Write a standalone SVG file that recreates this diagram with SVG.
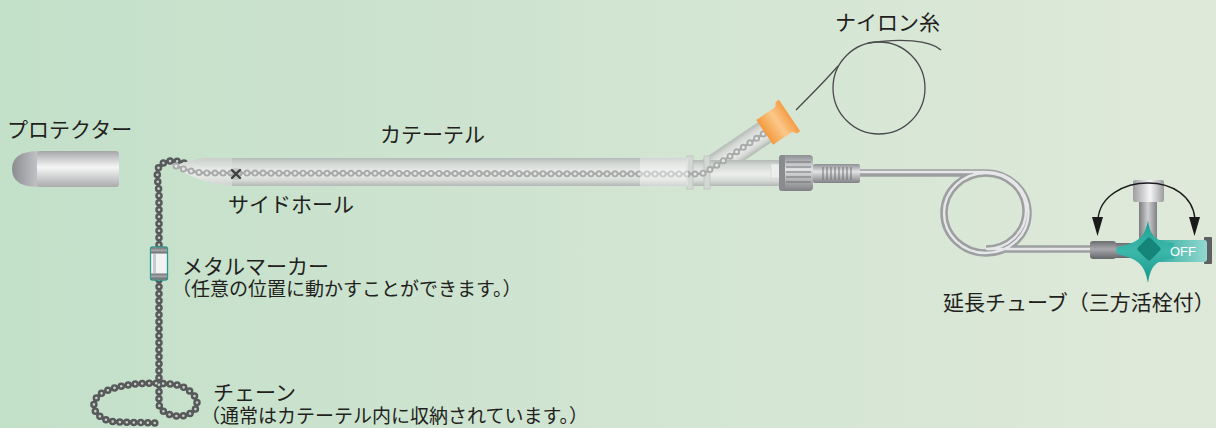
<svg xmlns="http://www.w3.org/2000/svg" width="1216" height="428" viewBox="0 0 1216 428">
  <defs>
    <linearGradient id="bg" x1="0" y1="0" x2="1" y2="0">
      <stop offset="0" stop-color="#c3e0c9"/>
      <stop offset="1" stop-color="#dfe9da"/>
    </linearGradient>
    <linearGradient id="metalV" x1="0" y1="0" x2="0" y2="1">
      <stop offset="0" stop-color="#a4a6a8"/>
      <stop offset="0.45" stop-color="#f6f6f6"/>
      <stop offset="1" stop-color="#a9abad"/>
    </linearGradient>
    <linearGradient id="capH" x1="0" y1="0" x2="1" y2="0">
      <stop offset="0" stop-color="#8c8d90"/>
      <stop offset="1" stop-color="#c4c5c8"/>
    </linearGradient>
    <linearGradient id="tube" x1="0" y1="0" x2="0" y2="1">
      <stop offset="0" stop-color="#b4bab5"/>
      <stop offset="0.2" stop-color="#d3d7d3"/>
      <stop offset="0.55" stop-color="#eceeec"/>
      <stop offset="0.8" stop-color="#d6d9d6"/>
      <stop offset="1" stop-color="#b3b8b4"/>
    </linearGradient>
    <linearGradient id="tip" x1="0" y1="0" x2="0" y2="1">
      <stop offset="0" stop-color="#c9cec9"/>
      <stop offset="0.5" stop-color="#eef0ee"/>
      <stop offset="1" stop-color="#cfd3cf"/>
    </linearGradient>
    <linearGradient id="nut" x1="0" y1="0" x2="0" y2="1">
      <stop offset="0" stop-color="#8e8f92"/>
      <stop offset="0.4" stop-color="#e2e3e5"/>
      <stop offset="1" stop-color="#7f8083"/>
    </linearGradient>
    <linearGradient id="orange" x1="0" y1="0" x2="1" y2="0">
      <stop offset="0" stop-color="#f39a3e"/>
      <stop offset="0.55" stop-color="#fbc88a"/>
      <stop offset="1" stop-color="#f49d45"/>
    </linearGradient>
    <linearGradient id="grayH" x1="0" y1="0" x2="1" y2="0">
      <stop offset="0" stop-color="#7a7b7e"/>
      <stop offset="0.5" stop-color="#cfd0d2"/>
      <stop offset="1" stop-color="#808184"/>
    </linearGradient>
    <linearGradient id="capTop" x1="0" y1="0" x2="1" y2="0">
      <stop offset="0" stop-color="#9c9da0"/>
      <stop offset="0.55" stop-color="#f5f5f5"/>
      <stop offset="1" stop-color="#9a9b9e"/>
    </linearGradient>
    <linearGradient id="darkV" x1="0" y1="0" x2="0" y2="1">
      <stop offset="0" stop-color="#6c6d70"/>
      <stop offset="0.45" stop-color="#a7a8ab"/>
      <stop offset="1" stop-color="#646568"/>
    </linearGradient>
    <linearGradient id="teal" x1="0" y1="0" x2="0" y2="1">
      <stop offset="0" stop-color="#1f9f92"/>
      <stop offset="0.5" stop-color="#3bb8aa"/>
      <stop offset="1" stop-color="#17958a"/>
    </linearGradient>
    <linearGradient id="tealLever" x1="0" y1="0" x2="1" y2="0">
      <stop offset="0" stop-color="#34ada1"/>
      <stop offset="1" stop-color="#92d8cf"/>
    </linearGradient>
    <style>
      .lbl { font-family: "Noto Sans CJK JP", "Noto Sans", sans-serif; fill: #231f20; }
      .big { font-size: 21px; }
      .sub { font-size: 19px; }
      .chainLink { fill: none; stroke: #58595b; stroke-width: 3; stroke-linejoin: round; }
      .chainBead { fill: none; stroke: #58595b; stroke-width: 7.5; stroke-dasharray: 0 7; stroke-linecap: round; stroke-linejoin: round; }
      .chainHole { fill: none; stroke: #c4d2c6; stroke-width: 2.6; stroke-dasharray: 0 7; stroke-linecap: round; stroke-linejoin: round; }
      .innerLink { fill: none; stroke: #a6a8a8; stroke-width: 2.5; }
      .innerBead { fill: none; stroke: #a9abab; stroke-width: 7; stroke-dasharray: 0 8; stroke-linecap: round; }
      .innerHole { fill: none; stroke: #e5e7e5; stroke-width: 3.2; stroke-dasharray: 0 8; stroke-linecap: round; }
      .thread { fill: none; stroke: #4a4a4c; stroke-width: 1.3; }
      .ext { fill: none; stroke: #9c9ea0; stroke-width: 7.5; stroke-linecap: butt; }
      .extHi { fill: none; stroke: #e6e7e8; stroke-width: 2.4; }
      .ridge { stroke: #6f7073; stroke-width: 1; }
    </style>
  </defs>

  <rect width="1216" height="428" fill="url(#bg)"/>

  <!-- protector -->
  <g id="protector">
    <path d="M39,151 Q12,151 12,169 Q12,187 39,187 Z" fill="url(#capH)"/>
    <rect x="37" y="151" width="82" height="36" rx="3" fill="url(#metalV)"/>
  </g>

  <!-- chain outside the catheter -->
  <g id="chain">
    <path class="chainLink" d="M184,163 C172,159 161,161 158,169 C156,177 159,185 159,196 L159,404 C160,415 182,421 194,411 C203,401 191,386 171,384 C150,382 116,383 99,395 C88,405 95,420 116,422 L157,423"/>
    <path class="chainBead" d="M184,163 C172,159 161,161 158,169 C156,177 159,185 159,196 L159,404 C160,415 182,421 194,411 C203,401 191,386 171,384 C150,382 116,383 99,395 C88,405 95,420 116,422 L157,423"/>
    <path class="chainHole" d="M184,163 C172,159 161,161 158,169 C156,177 159,185 159,196 L159,404 C160,415 182,421 194,411 C203,401 191,386 171,384 C150,382 116,383 99,395 C88,405 95,420 116,422 L157,423"/>
  </g>

  <!-- metal marker on the chain -->
  <g id="metal-marker">
    <rect x="150.5" y="247" width="17" height="33" rx="2" fill="#f2f3f3" stroke="#2a9a8e" stroke-width="1.3"/>
    <rect x="151" y="247.5" width="16" height="6" fill="url(#darkV)"/>
    <rect x="151" y="273.5" width="16" height="6" fill="url(#darkV)"/>
    <rect x="153" y="254" width="3" height="19" fill="#c9cacc"/>
  </g>

  <!-- catheter -->
  <g id="catheter">
    <path d="M233,158 L204,158 C193,160 184,162 176,165 C181,172 196,180 216,184 L233,186 Z" fill="url(#tip)"/>
    <rect x="232" y="158" width="460" height="28" fill="url(#tube)"/>
    <!-- side arm -->
    <g transform="translate(700,176) rotate(-34)">
      <rect x="0" y="-12" width="90" height="24" fill="url(#tube)"/>
    </g>
    <rect x="693" y="160" width="88" height="26" fill="url(#tube)"/>
    <rect x="687" y="156" width="6" height="33" fill="#d4d8d4" stroke="#bdc2bd" stroke-width="0.8"/>
    <rect x="704" y="156" width="6" height="33" fill="#d4d8d4" stroke="#bdc2bd" stroke-width="0.8"/>
    <rect x="771" y="164" width="10" height="14" fill="#eceeec" stroke="#cfd3cf" stroke-width="0.6"/>
    <!-- chain inside the catheter -->
    <path class="innerLink" d="M176,166 C185,170 195,173 210,173 L697,174 C703,174 706,172 711,169 L772,128"/>
    <path class="innerBead" d="M176,166 C185,170 195,173 210,173 L697,174 C703,174 706,172 711,169 L772,128"/>
    <path class="innerHole" d="M176,166 C185,170 195,173 210,173 L697,174 C703,174 706,172 711,169 L772,128"/>
    <rect x="640" y="158" width="48" height="28" fill="#ffffff" opacity="0.4"/>
    <!-- cap on the side arm -->
    <g transform="translate(700,176) rotate(-34)">
      <path d="M78,-15 L101,-15 L104,-19 L108,-19 L108,19 L104,19 L101,15 L78,15 Z" fill="url(#orange)"/>
    </g>
  </g>

  <!-- side hole -->
  <g id="side-hole">
    <circle cx="236" cy="174" r="6" fill="#9fa39f" opacity="0.45"/>
    <path d="M232,170 L240,178 M240,170 L232,178" stroke="#3f4042" stroke-width="2.4" stroke-linecap="round"/>
  </g>

  <!-- luer nut and grip -->
  <g id="luer-hub">
    <rect x="779" y="155" width="34" height="36" rx="4" fill="url(#nut)"/>
    <rect x="779" y="155" width="6" height="36" rx="3" fill="#8a8b8e"/>
    <path class="ridge" d="M786,162 H811 M786,167 H811 M786,172 H811 M786,177 H811 M786,182 H811"/>
    <rect x="813" y="164" width="47" height="19" rx="2" fill="url(#nut)"/>
    <path class="ridge" d="M823,167 V180 M827,167 V180 M831,167 V180 M835,167 V180 M839,167 V180 M843,167 V180 M847,167 V180 M851,167 V180"/>
  </g>

  <!-- nylon thread -->
  <g id="nylon-thread">
    <path class="thread" d="M796,110 C810,96 825,81 838,66"/>
    <circle class="thread" cx="879" cy="88" r="46"/>
    <path class="thread" d="M868,43 C900,38 930,40 941,50"/>
  </g>

  <!-- extension tube -->
  <g id="extension-tube">
    <path class="ext" d="M860,173 H986 A42,40 0 0 1 986,253 A42,40 0 0 1 944,213 A42,40 0 0 1 986,173 A40,38 0 0 1 1026,211 A40,38 0 0 1 986,249 H1092"/>
    <path class="extHi" d="M860,172 H986 A42,40 0 0 1 986,253 A42,40 0 0 1 944,213 A42,40 0 0 1 986,173 A40,38 0 0 1 1026,211 A40,38 0 0 1 986,249 H1092"/>
  </g>

  <!-- three-way stopcock -->
  <g id="stopcock">
    <rect x="1112" y="243" width="40" height="15" fill="url(#darkV)"/>
    <rect x="1090" y="241" width="26" height="18" rx="3" fill="url(#darkV)"/>
    <rect x="1139" y="200" width="18" height="46" fill="url(#grayH)"/>
    <rect x="1133" y="180" width="31" height="22" rx="2" fill="url(#capTop)"/>
    <rect x="1204" y="237" width="8" height="27" rx="1" fill="#5e5f62"/>
    <rect x="1156" y="240" width="51" height="22" rx="3" fill="url(#tealLever)"/>
    <path d="M1148,220 C1150,236 1156,242 1174,243 L1174,259 C1156,260 1151,265 1148,283 C1145,266 1139,259 1120,255 C1115,254 1115,247 1120,246 C1139,243 1145,236 1148,220 Z" fill="url(#teal)"/>
    <path d="M1149,240 L1158,249 L1149,258 L1140,249 Z" fill="#168579" stroke="#168579" stroke-width="5" stroke-linejoin="round"/>
    <text x="1170" y="256" font-family="Liberation Sans, Arial, sans-serif" font-size="13" fill="#ffffff">OFF</text>
  </g>

  <!-- rotation arrows -->
  <g id="connectors">
    <path d="M1098,219 C1100,196 1124,183 1148,183 C1172,183 1193,196 1195,219" fill="none" stroke="#1a1a1a" stroke-width="1.3"/>
    <polygon points="1092,217 1103,217 1097.5,236" fill="#1a1a1a"/>
    <polygon points="1189,217 1200,217 1194.5,236" fill="#1a1a1a"/>
  </g>

  <!-- labels -->
  <g id="labels">
    <text class="lbl big" x="7" y="137">プロテクター</text>
    <text class="lbl big" x="380" y="142">カテーテル</text>
    <text class="lbl big" x="835" y="30">ナイロン糸</text>
    <text class="lbl big" x="228" y="212">サイドホール</text>
    <text class="lbl"><tspan class="big" x="182" y="274">メタルマーカー</tspan><tspan class="sub" x="172" y="296">（任意の位置に動かすことができます。）</tspan></text>
    <text class="lbl"><tspan class="big" x="213" y="400">チェーン</tspan><tspan class="sub" x="201" y="423">（通常はカテーテル内に収納されています。）</tspan></text>
    <text class="lbl big" x="943" y="310">延長チューブ（三方活栓付）</text>
  </g>
</svg>
